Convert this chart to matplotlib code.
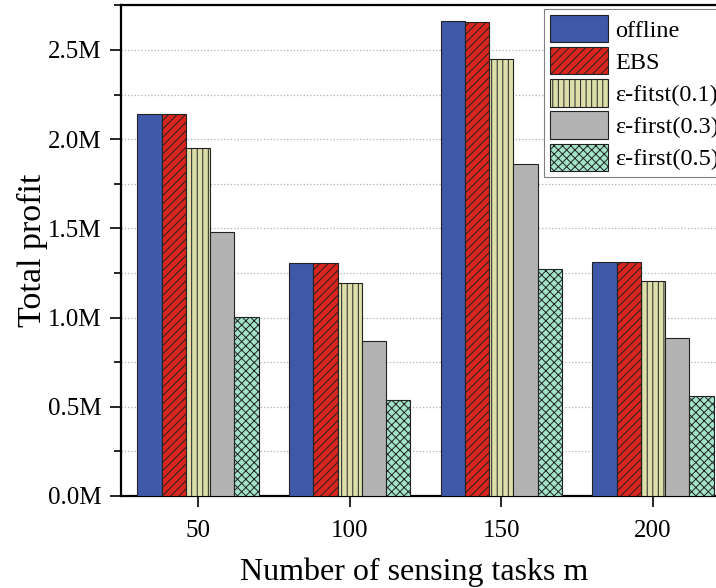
import numpy as np
import matplotlib
matplotlib.use('Agg')
import matplotlib.pyplot as plt
from matplotlib.ticker import MultipleLocator

# data (values in millions)
tasks = ['50', '100', '150', '200']
series_names = ['offline', 'EBS', 'ε-fitst(0.1)', 'ε-first(0.3)', 'ε-first(0.5)']
offline = [2.141, 1.308, 2.664, 1.313]
ebs = [2.140, 1.306, 2.659, 1.310]
eps_01 = [1.952, 1.194, 2.450, 1.207]
eps_03 = [1.480, 0.869, 1.861, 0.884]
eps_05 = [1.005, 0.538, 1.274, 0.562]
ytick_vals = [0.0, 0.5, 1.0, 1.5, 2.0, 2.5]
ytick_labels = ['0.0M', '0.5M', '1.0M', '1.5M', '2.0M', '2.5M']

# styles
colors = ['#3f59a9', '#d8261f', '#dcdfaa', '#b3b3b3', '#a3e3c9']
hatches = [None, '////', '|||', None, 'xxxx']

plt.rcParams['font.family'] = ['Liberation Serif', 'DejaVu Serif']
plt.rcParams['hatch.linewidth'] = 0.7
plt.rcParams['hatch.color'] = '#222222'

fig = plt.figure(figsize=(7.16, 5.88), dpi=100)
# axes runs off the right edge like the reference crop
ax = fig.add_axes([121 / 716, 92 / 588, 609 / 716, 491 / 588])

all_series = [offline, ebs, eps_01, eps_03, eps_05]
x = np.arange(len(tasks))
width = 0.16
for i, (vals, name) in enumerate(zip(all_series, series_names)):
    ax.bar(x + (i - 2) * width, vals, width, color=colors[i], hatch=hatches[i],
           edgecolor='#222222', linewidth=0.8, label=name, zorder=3)

ax.set_xlim(-0.507, 3.507)
ax.set_ylim(0, 2.752)
ax.set_xticks(x)
ax.set_xticklabels(tasks)
ax.set_yticks(ytick_vals)
ax.set_yticklabels(ytick_labels)
ax.yaxis.set_minor_locator(MultipleLocator(0.25))

ax.tick_params(axis='both', which='major', direction='out', length=8, width=1.2,
               labelsize=18, pad=6)
ax.tick_params(axis='y', which='minor', direction='out', length=5, width=1.2)
ax.tick_params(axis='x', which='major', pad=9)

ax.yaxis.grid(True, which='both', linestyle=':', color='#b0b0b0', linewidth=0.9)
ax.set_axisbelow(True)

for side in ['left', 'bottom', 'top', 'right']:
    ax.spines[side].set_linewidth(1.6)

ax.set_xlabel('Number of sensing tasks m', fontsize=23)
ax.xaxis.set_label_coords((414 - 121) / 609, -0.126)
ax.set_ylabel('Total profit', fontsize=24.5)
ax.yaxis.set_label_coords(-0.12, 0.5)

leg = ax.legend(loc='upper left', bbox_to_anchor=(0.694, 0.992), fontsize=17.5,
                frameon=True, fancybox=False, edgecolor='#808080', framealpha=1,
                handlelength=2.4, handleheight=1.35, handletextpad=0.3,
                labelspacing=0.2, borderpad=0.25, borderaxespad=0)
leg.get_frame().set_linewidth(0.8)

fig.savefig('out.png', dpi=100)
